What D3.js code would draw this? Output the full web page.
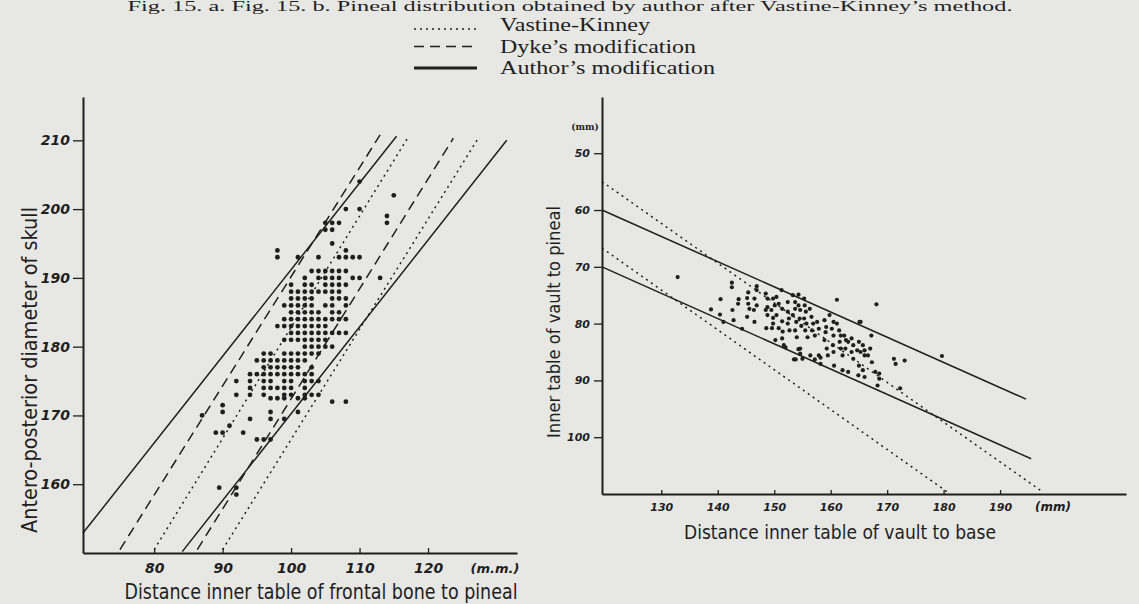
<!DOCTYPE html>
<html>
<head>
<meta charset="utf-8">
<script src="https://cdn.jsdelivr.net/npm/d3@7"></script>
<style>
body { margin: 0; background: #e7e7e4; }
svg { display: block; }
</style>
</head>
<body>
<svg id="chart" width="1139" height="604"></svg>
<script>

// tick labels
var leftXTicks = [80, 90, 100, 110, 120];
var leftYTicks = [160, 170, 180, 190, 200, 210];
var rightXTicks = [130, 140, 150, 160, 170, 180, 190];
var rightYTicks = [50, 60, 70, 80, 90, 100];

// Fig. 15 a: [frontal bone to pineal, antero-posterior diameter] (mm)
var leftPoints = [
    [110, 204], [115, 202], [108, 200], [110, 200], [114, 199], [114, 198],
    [105, 198], [106, 198], [107, 198], [105, 197], [106, 197], [106, 195],
    [98, 194], [108, 194],
    [98, 193], [101, 193], [104, 193], [107, 193], [108, 193], [109, 193], [110, 193],
    [103, 191], [104, 191], [105, 191], [106, 191], [107, 191], [108, 191],
    [102, 190], [104, 190], [105, 190], [106, 190], [107, 190], [109, 190], [110, 190], [113, 190],
    [100, 189], [102, 189], [103, 189], [105, 189], [106, 189], [107, 189], [108, 189],
    [100, 188], [101, 188], [102, 188], [103, 188], [104, 188], [105, 188], [106, 188], [107, 188],
    [100, 187], [101, 187], [102, 187], [103, 187], [106, 187], [107, 187], [108, 187],
    [99, 186], [100, 186], [101, 186], [102, 186], [103, 186], [105, 186], [106, 186], [108, 186],
    [100, 185], [101, 185], [102, 185], [103, 185], [104, 185], [106, 185], [107, 185],
    [99, 184], [100, 184], [101, 184], [102, 184], [103, 184], [104, 184], [105, 184], [106, 184], [107, 184], [108, 184],
    [98, 183], [99, 183], [100, 183], [101, 183], [102, 183], [103, 183], [104, 183], [105, 183],
    [100, 182], [101, 182], [102, 182], [103, 182], [104, 182], [105, 182], [106, 182], [107, 182], [108, 182],
    [99, 181], [100, 181], [101, 181], [102, 181], [103, 181], [104, 181], [105, 181],
    [102, 180], [103, 180], [104, 180], [105, 180], [106, 180],
    [96, 179], [97, 179], [99, 179], [100, 179], [101, 179], [102, 179], [103, 179], [104, 179],
    [95, 178], [96, 178], [97, 178], [98, 178], [99, 178], [100, 178], [101, 178], [102, 178],
    [96, 177], [97, 177], [98, 177], [99, 177], [100, 177], [101, 177], [103, 177],
    [94, 176], [95, 176], [96, 176], [97, 176], [98, 176], [99, 176], [100, 176], [101, 176], [102, 176], [103, 176],
    [92, 175], [94, 175], [96, 175], [97, 175], [99, 175], [100, 175], [102, 175], [103, 175], [104, 175],
    [94, 174], [96, 174], [97, 174], [98, 174], [99, 174], [100, 174], [102, 174],
    [92, 173], [94, 173], [96, 173], [99, 173], [100, 173], [102, 173], [103, 173], [104, 173],
    [97, 172.5], [98, 172.5], [99, 172.5], [101, 172.5], [102, 172.5], [106, 172], [108, 172],
    [90, 171.5], [90, 170.5], [87, 170], [97, 170.5], [97, 169.5], [94, 169.5], [99, 169.5], [101, 170.5],
    [91, 168.5], [89, 167.5], [90, 167.5], [93, 167.5], [95, 166.5], [96, 166.5], [97, 166.5],
    [89.5, 159.5], [92, 159.5], [92, 158.5]
];

// Fig. 15 b: [vault to base, vault to pineal] (mm)
var rightPoints = [
    [132.9, 71.8], [138.8, 77.5], [140.4, 78.4], [140.5, 75.7], [141.0, 79.7],
    [142.5, 72.8], [142.5, 73.6], [142.6, 77.6], [142.8, 79.4], [144.3, 80.9],
    [143.7, 75.7], [143.6, 76.5], [145.4, 74.5], [145.2, 75.5], [145.4, 76.5],
    [145.6, 77.4], [145.2, 78.8], [146.5, 75.6], [146.9, 76.8], [146.4, 77.6],
    [146.5, 79.7], [146.9, 73.4], [146.9, 74.1], [148.5, 74.7], [148.8, 75.6],
    [148.8, 77.1], [148.5, 77.6], [148.8, 78.5], [148.6, 80.8], [149.8, 75.6],
    [150.1, 76.8], [149.5, 77.6], [149.8, 79.0], [149.8, 80.0], [149.6, 80.8],
    [150.4, 75.3], [150.8, 76.5], [151.4, 77.4], [150.4, 78.5], [151.4, 79.6],
    [150.8, 80.8], [151.3, 74.1], [151.5, 81.4], [151.4, 82.6], [151.7, 83.8],
    [152.4, 76.2], [152.4, 77.9], [152.6, 79.1], [152.4, 80.0], [152.7, 81.2],
    [153.3, 75.0], [153.7, 76.2], [153.7, 77.4], [153.3, 78.5], [153.9, 79.7],
    [153.7, 81.2], [154.0, 82.4], [154.3, 74.9], [154.3, 76.8], [154.6, 77.6],
    [154.5, 79.1], [154.8, 80.4], [154.6, 84.4], [154.6, 85.3], [155.0, 86.2],
    [153.8, 86.3], [155.3, 75.6], [155.4, 76.8], [155.6, 77.9], [155.3, 79.1],
    [155.7, 80.0], [155.5, 81.2], [155.9, 82.4], [156.3, 77.4], [156.6, 78.8],
    [156.9, 80.0], [156.7, 81.2], [157.2, 82.1], [157.6, 79.7], [157.9, 80.9],
    [157.9, 85.6], [157.2, 86.3], [158.2, 87.1], [158.9, 79.4], [159.2, 80.6],
    [159.1, 81.5], [158.9, 82.9], [159.3, 84.4], [159.5, 85.6], [159.8, 78.5],
    [160.5, 79.7], [160.2, 80.9], [160.5, 82.1], [160.4, 83.8], [160.5, 85.0],
    [160.6, 87.4], [161.1, 75.8], [161.1, 80.0], [161.5, 81.2], [161.8, 82.1],
    [161.6, 83.2], [161.8, 84.4], [162.1, 85.6], [162.1, 88.2], [162.4, 82.1],
    [162.7, 82.9], [163.1, 83.2], [162.6, 84.4], [163.1, 88.5], [163.7, 82.6],
    [164.0, 83.8], [163.7, 85.0], [164.0, 86.2], [165.0, 83.2], [164.7, 84.7],
    [165.3, 85.0], [165.0, 87.4], [164.9, 89.1], [165.7, 83.8], [166.0, 84.7],
    [166.0, 85.6], [165.7, 88.2], [166.0, 89.4], [167.2, 82.1], [167.0, 84.4],
    [166.6, 85.6], [167.3, 86.8], [168.1, 76.6], [167.9, 88.5], [168.6, 88.8],
    [168.3, 90.9], [168.6, 89.7], [171.2, 86.2], [171.5, 87.1], [173.1, 86.5],
    [172.3, 91.4], [179.7, 85.7], [165.3, 79.7], [165.1, 79.7],
    [150.2, 82.9], [153.5, 86.3], [156.4, 85.6], [158.2, 86.0], [152.0, 84.2], [154.3, 84.5]
];

// reference lines, [x1, y1, x2, y2] in mm
var leftVastine = [[80, 150.5, 117, 210.3], [90, 150.5, 127.4, 210.4]];
var leftDyke = [[75, 150.5, 113, 210.8], [86.3, 150.5, 123.7, 210.3]];
var leftAuthor = [[69.6, 152.9, 115.4, 210.6], [84.1, 150.2, 131.5, 210]];
var rightVastine = [[119.5, 55, 197.5, 109.6], [119.5, 66.7, 180.6, 109.6]];
var rightAuthor = [[119.5, 60, 194.6, 93.3], [119.5, 70, 195.5, 103.8]];

var legendItems = ['Vastine-Kinney', 'Dyke\u2019s modification', 'Author\u2019s modification'];
var titleText = 'Fig. 15. a.   Fig. 15. b.  Pineal distribution obtained by author after Vastine-Kinney\u2019s method.';

var ink = '#1f1f1f';
var styles = {
    vastine: { width: 1.5, dash: '2,4' },
    dyke: { width: 1.5, dash: '10,6' },
    author: { width: 1.5, dash: null }
};

var svg = d3.select('#chart');

var xL = d3.scaleLinear().domain([69.6, 133]).range([83, 517]);
var yL = d3.scaleLinear().domain([150, 216.3]).range([553, 97]);
var xR = d3.scaleLinear().domain([119.5, 212.3]).range([602, 1126]);
var yR = d3.scaleLinear().domain([40.1, 110]).range([97, 494]);

function styleAxis(g, size) {
    g.attr('color', ink)
        .attr('font-family', '"DejaVu Sans", sans-serif')
        .attr('font-style', 'italic')
        .attr('font-weight', 'bold')
        .attr('font-size', size);
    g.select('.domain').attr('stroke-width', 2);
    g.selectAll('.tick line').attr('stroke-width', 1.3);
}

function drawLines(data, x, y, style) {
    svg.append('g')
        .selectAll('line')
        .data(data)
        .join('line')
        .attr('x1', function(d) { return x(d[0]); })
        .attr('y1', function(d) { return y(d[1]); })
        .attr('x2', function(d) { return x(d[2]); })
        .attr('y2', function(d) { return y(d[3]); })
        .attr('stroke', ink)
        .attr('stroke-width', style.width)
        .attr('stroke-dasharray', style.dash);
}

function drawPoints(data, x, y, r) {
    svg.append('g')
        .selectAll('circle')
        .data(data)
        .join('circle')
        .attr('cx', function(d) { return x(d[0]); })
        .attr('cy', function(d) { return y(d[1]); })
        .attr('r', r)
        .attr('fill', ink);
}

function label(text, x, y, size, len, rotate) {
    var t = svg.append('text')
        .attr('font-family', '"DejaVu Sans Condensed", "DejaVu Sans", sans-serif')
        .attr('font-size', size)
        .attr('fill', ink)
        .attr('text-anchor', 'middle')
        .attr('textLength', len)
        .attr('lengthAdjust', 'spacingAndGlyphs')
        .text(text);
    if (rotate) {
        t.attr('transform', 'translate(' + x + ',' + y + ') rotate(-90)');
    } else {
        t.attr('x', x).attr('y', y);
    }
}

// title (cut off at the top of the scan) and legend
svg.append('text')
    .attr('x', 570).attr('y', 11)
    .attr('font-family', '"Liberation Serif", serif')
    .attr('font-size', 14)
    .attr('fill', ink)
    .attr('text-anchor', 'middle')
    .attr('textLength', 885)
    .attr('lengthAdjust', 'spacingAndGlyphs')
    .text(titleText);

var legendStyles = [styles.vastine, styles.dyke, { width: 3, dash: null }];
var legendY = d3.scalePoint().domain(legendItems).range([25, 68]);
var legendLen = [150, 196, 215];
legendItems.forEach(function(name, i) {
    var y = legendY(name);
    svg.append('line')
        .attr('x1', 414).attr('x2', 477)
        .attr('y1', i === 0 ? y + 4 : y).attr('y2', i === 0 ? y + 4 : y)
        .attr('stroke', ink)
        .attr('stroke-width', legendStyles[i].width)
        .attr('stroke-dasharray', legendStyles[i].dash);
    svg.append('text')
        .attr('x', 500).attr('y', y + 6)
        .attr('font-family', '"Liberation Serif", serif')
        .attr('font-size', 18)
        .attr('fill', ink)
        .attr('textLength', legendLen[i])
        .attr('lengthAdjust', 'spacingAndGlyphs')
        .text(name);
});

// Fig. 15 a
svg.append('g')
    .attr('transform', 'translate(' + xL.range()[0] + ',0)')
    .call(d3.axisLeft(yL).tickValues(leftYTicks).tickSize(10).tickSizeOuter(0).tickPadding(3))
    .call(styleAxis, 14);
svg.append('g')
    .attr('transform', 'translate(0,' + yL.range()[0] + ')')
    .call(d3.axisBottom(xL).tickValues(leftXTicks).tickSize(-5).tickSizeOuter(0).tickPadding(10))
    .call(styleAxis, 14);
svg.append('text')
    .attr('x', 495).attr('y', 573)
    .attr('font-family', '"DejaVu Sans", sans-serif')
    .attr('font-style', 'italic').attr('font-weight', 'bold')
    .attr('font-size', 13).attr('fill', ink)
    .attr('text-anchor', 'middle')
    .text('(m.m.)');

drawLines(leftVastine, xL, yL, styles.vastine);
drawLines(leftDyke, xL, yL, styles.dyke);
drawLines(leftAuthor, xL, yL, styles.author);
drawPoints(leftPoints, xL, yL, 2.4);

label('Antero-posterior diameter of skull', 37, 370, 21, 326, true);
label('Distance inner table of frontal bone to pineal', 321, 599, 21, 393, false);

// Fig. 15 b
svg.append('g')
    .attr('transform', 'translate(' + xR.range()[0] + ',0)')
    .call(d3.axisLeft(yR).tickValues(rightYTicks).tickSize(8).tickSizeOuter(0).tickPadding(4))
    .call(styleAxis, 11);
svg.append('g')
    .attr('transform', 'translate(0,' + yR.range()[1] + ')')
    .call(d3.axisBottom(xR).tickValues(rightXTicks).tickSize(-4).tickSizeOuter(0).tickPadding(9))
    .call(styleAxis, 11);
svg.append('text')
    .attr('x', 585).attr('y', 130)
    .attr('font-family', '"DejaVu Serif", serif')
    .attr('font-weight', 'bold')
    .attr('font-size', 9).attr('fill', ink)
    .attr('text-anchor', 'middle')
    .text('(mm)');
svg.append('text')
    .attr('x', 1053).attr('y', 511)
    .attr('font-family', '"DejaVu Sans", sans-serif')
    .attr('font-style', 'italic').attr('font-weight', 'bold')
    .attr('font-size', 12).attr('fill', ink)
    .attr('text-anchor', 'middle')
    .text('(mm)');

drawLines(rightVastine, xR, yR, styles.vastine);
drawLines(rightAuthor, xR, yR, styles.author);
drawPoints(rightPoints, xR, yR, 2.1);

label('Inner table of vault to pineal', 560, 322, 18, 232, true);
label('Distance inner table of vault to base', 840, 539, 19, 312, false);
</script>
</body>
</html>
